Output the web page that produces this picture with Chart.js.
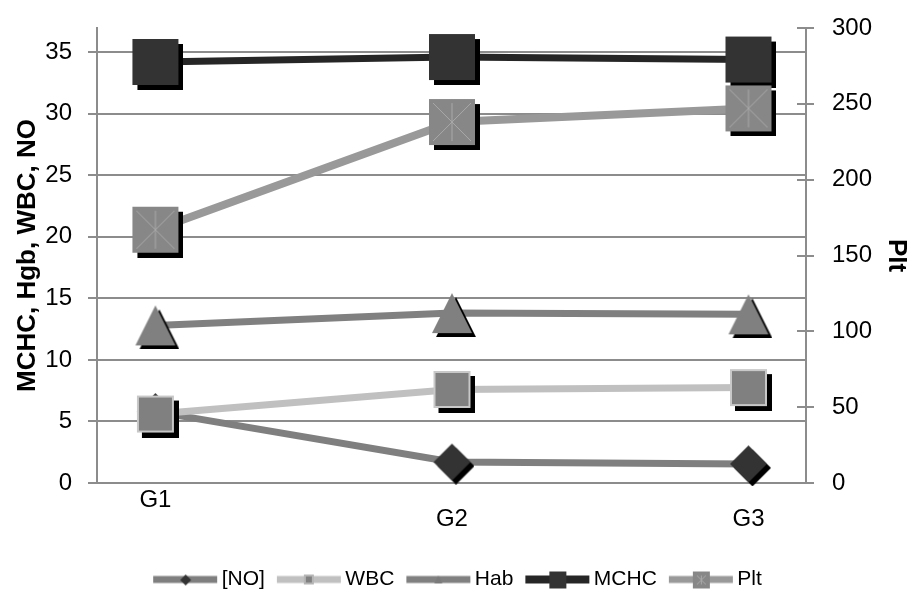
<!DOCTYPE html>
<html>
<head>
<meta charset="utf-8">
<script src="https://cdn.jsdelivr.net/npm/chart.js@4"></script>
<style>
  html, body { margin: 0; padding: 0; background: #fff; }
  #wrap { width: 907px; height: 590px; }
</style>
</head>
<body>
<div id="wrap"><canvas id="grafico"></canvas></div>
<script>
const categorias = ["G1", "G2", "G3"];
const valoresNO = [5.8, 1.7, 1.55];
const valoresWBC = [5.6, 7.6, 7.75];
const valoresHab = [12.8, 13.8, 13.7];
const valoresMCHC = [34.2, 34.6, 34.4];
const valoresPlt = [167, 238, 247];
const ticksIzq = [0, 5, 10, 15, 20, 25, 30, 35];
const ticksDer = [0, 50, 100, 150, 200, 250, 300];

// marcador con sombra negra, como en la hoja original
function marcador(forma, tam, relleno, borde, sombra) {
  const c = document.createElement("canvas");
  c.width = tam + 2 * sombra;
  c.height = tam + 2 * sombra;
  const ctx = c.getContext("2d");
  function trazo(x0, y0) {
    ctx.beginPath();
    if (forma === "cuadro") {
      ctx.rect(x0, y0, tam, tam);
    } else if (forma === "triangulo") {
      ctx.moveTo(x0 + tam / 2, y0);
      ctx.lineTo(x0 + tam, y0 + tam);
      ctx.lineTo(x0, y0 + tam);
      ctx.closePath();
    } else {
      ctx.moveTo(x0 + tam / 2, y0);
      ctx.lineTo(x0 + tam, y0 + tam / 2);
      ctx.lineTo(x0 + tam / 2, y0 + tam);
      ctx.lineTo(x0, y0 + tam / 2);
      ctx.closePath();
    }
  }
  if (sombra) {
    ctx.fillStyle = "#000";
    trazo(2 * sombra, 2 * sombra);
    ctx.fill();
  }
  ctx.fillStyle = relleno;
  trazo(sombra, sombra);
  ctx.fill();
  if (borde) {
    ctx.strokeStyle = borde;
    ctx.lineWidth = 2;
    ctx.strokeRect(sombra + 1, sombra + 1, tam - 2, tam - 2);
  }
  return c;
}

function cuadroX(tam, sombra) {
  const c = marcador("cuadro", tam, "#878787", null, sombra);
  const ctx = c.getContext("2d");
  ctx.strokeStyle = "#a9a9a9";
  ctx.lineWidth = 1;
  const a = sombra + 4, b = sombra + tam - 4, m = sombra + tam / 2;
  ctx.beginPath();
  ctx.moveTo(a, a); ctx.lineTo(b, b);
  ctx.moveTo(b, a); ctx.lineTo(a, b);
  ctx.moveTo(m, a); ctx.lineTo(m, b);
  ctx.stroke();
  return c;
}

// icono de leyenda: linea con marcador pequeño
const anchoCaja = 66, largoLinea = 64, inicioLinea = 8, sobra = 7;
function iconoLeyenda(color, grosor, mk) {
  const c = document.createElement("canvas");
  c.width = anchoCaja + 2 * sobra;
  c.height = 22;
  const ctx = c.getContext("2d");
  const x0 = sobra + inicioLinea;
  ctx.fillStyle = color;
  ctx.fillRect(x0, 11 - grosor / 2, largoLinea, grosor);
  if (mk) ctx.drawImage(mk, Math.round(x0 + largoLinea / 2 - mk.width / 2), Math.round(11 - mk.height / 2));
  return c;
}

const iconos = [
  iconoLeyenda("#7f7f7f", 7, marcador("rombo", 11, "#333", null, 0)),
  iconoLeyenda("#c0c0c0", 7, marcador("cuadro", 10, "#808080", "#b5b5b5", 0)),
  iconoLeyenda("#808080", 7, marcador("triangulo", 8, "#7a7a7a", null, 0)),
  iconoLeyenda("#262626", 8, marcador("cuadro", 17, "#333", null, 0)),
  iconoLeyenda("#999999", 7, cuadroX(17, 0))
];

const puntos = arr => arr.map((v, i) => ({ x: i, y: v }));

const fuente = "'Liberation Sans', Arial, sans-serif";

const lineasDer = {
  id: "lineasDer",
  afterDatasetsDraw(chart) {
    const s = chart.scales.y2;
    const ctx = chart.ctx;
    ctx.save();
    ctx.strokeStyle = "#8c8c8c";
    ctx.lineWidth = 2;
    s.ticks.forEach(t => {
      const y = Math.round(s.getPixelForValue(t.value));
      ctx.beginPath();
      ctx.moveTo(s.left - 9, y);
      ctx.lineTo(s.left, y);
      ctx.stroke();
    });
    ctx.restore();
  }
};

new Chart(document.getElementById("grafico"), {
  type: "line",
  data: {
    datasets: [
      { label: "[NO]", data: puntos(valoresNO), yAxisID: "y", order: 5,
        borderColor: "#7f7f7f", borderWidth: 7, pointStyle: marcador("rombo", 37, "#333", null, 4) },
      { label: "WBC", data: puntos(valoresWBC), yAxisID: "y", order: 4,
        borderColor: "#c0c0c0", borderWidth: 7, pointStyle: marcador("cuadro", 37, "#808080", "#c8c8c8", 5) },
      { label: "Hab", data: puntos(valoresHab), yAxisID: "y", order: 3,
        borderColor: "#808080", borderWidth: 7, pointStyle: marcador("triangulo", 40, "#808080", null, 4) },
      { label: "MCHC", data: puntos(valoresMCHC), yAxisID: "y", order: 2,
        borderColor: "#262626", borderWidth: 7, pointStyle: marcador("cuadro", 46, "#333", null, 5) },
      { label: "Plt", data: puntos(valoresPlt), yAxisID: "y2", order: 1,
        borderColor: "#999999", borderWidth: 8, pointStyle: cuadroX(46, 5) }
    ]
  },
  options: {
    responsive: true,
    maintainAspectRatio: false,
    animation: false,
    layout: { padding: { top: 23, bottom: -10 } },
    elements: {
      line: { tension: 0, fill: false },
      point: { radius: 20 }
    },
    datasets: { line: { clip: false } },
    plugins: {
      tooltip: { enabled: false },
      legend: {
        position: "bottom",
        reverse: true,
        labels: {
          usePointStyle: true,
          pointStyleWidth: anchoCaja,
          padding: 4,
          color: "#000",
          font: { family: fuente, size: 21 },
          generateLabels(chart) {
            const items = Chart.defaults.plugins.legend.labels.generateLabels(chart);
            items.forEach(it => { it.pointStyle = iconos[it.datasetIndex]; });
            return items;
          }
        }
      }
    },
    scales: {
      x: {
        type: "linear",
        min: -0.197,
        max: 2.194,
        grid: { display: false },
        border: { display: false },
        afterFit: s => { s.height = 82; },
        afterBuildTicks: s => { s.ticks = categorias.map((c, i) => ({ value: i })); },
        ticks: {
          autoSkip: false,
          maxRotation: 0,
          padding: 0,
          color: "#000",
          font: { family: fuente, size: 24, lineHeight: 0.8 },
          callback: v => v === 0 ? categorias[v] : ["", categorias[v]]
        }
      },
      y: {
        position: "left",
        min: 0,
        max: 36.96,
        afterFit: s => { s.width = 97; },
        afterBuildTicks: s => { s.ticks = ticksIzq.map(v => ({ value: v })); },
        grid: { color: "#8c8c8c", lineWidth: 2, tickLength: 9 },
        border: { color: "#8c8c8c", width: 2 },
        ticks: { padding: 16, color: "#000", font: { family: fuente, size: 24, lineHeight: 0.1 } },
        title: {
          display: true,
          text: "MCHC, Hgb, WBC, NO",
          color: "#000",
          padding: { top: 15, bottom: 0 },
          font: { family: fuente, size: 26, weight: "bold", lineHeight: 1 }
        }
      },
      y2: {
        position: "right",
        min: 0,
        max: 300,
        afterFit: s => { s.width = 101; },
        afterBuildTicks: s => { s.ticks = ticksDer.map(v => ({ value: v })); },
        grid: { drawOnChartArea: false, color: "#8c8c8c", lineWidth: 2, tickLength: 8 },
        border: { color: "#8c8c8c", width: 2 },
        ticks: { padding: 18, color: "#000", font: { family: fuente, size: 24, lineHeight: 0.1 } },
        title: {
          display: true,
          text: "Plt",
          color: "#000",
          padding: { top: -2, bottom: 0 },
          font: { family: fuente, size: 26, weight: "bold", lineHeight: 1 }
        }
      }
    }
  },
  plugins: [lineasDer]
});
</script>
</body>
</html>
